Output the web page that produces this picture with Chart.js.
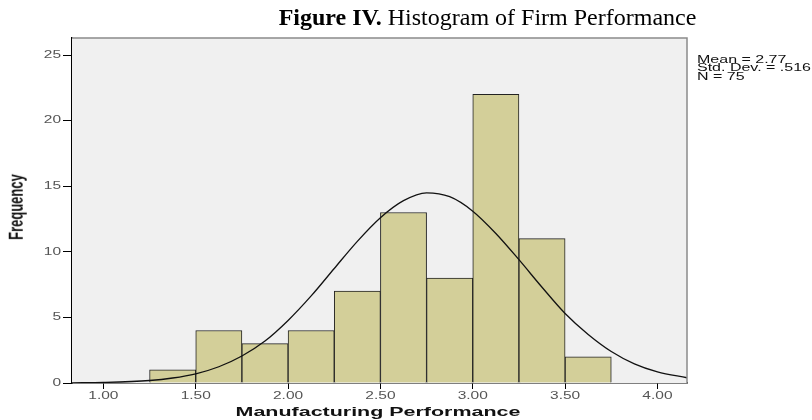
<!DOCTYPE html>
<html>
<head>
<meta charset="utf-8">
<script src="https://cdn.jsdelivr.net/npm/chart.js@4.4.1/dist/chart.umd.min.js"></script>
<style>
  html, body { margin: 0; padding: 0; background: #fff; }
  #wrap { position: relative; width: 812px; height: 420px; overflow: hidden; }
  #title { position: absolute; left: 0; width: 975px; top: 4px; text-align: center; white-space: nowrap;
           font-family: "Liberation Serif", "Times New Roman", serif; font-size: 24px; color: #000; }
  #stats { position: absolute; left: 697px; top: 56px; font-family: "Liberation Sans", Arial, sans-serif;
           font-size: 10px; line-height: 8.4px; color: #111; transform: scaleX(1.6); transform-origin: 0 0;
           white-space: nowrap; }
  #xtitle { position: absolute; left: 0; width: 756px; top: 404px; text-align: center; white-space: nowrap;
            font-family: "Liberation Sans", Arial, sans-serif; font-size: 13px; font-weight: bold; color: #111;
            transform: scaleX(1.65); transform-origin: 378px 0; }
  #ytitle { position: absolute; left: 16px; top: 207px; white-space: nowrap;
            font-family: "Liberation Sans", Arial, sans-serif; font-size: 13px; font-weight: bold; color: #111;
            transform: translate(-50%, -50%) rotate(-90deg) scaleY(1.5); }
</style>
</head>
<body>
<div id="wrap">
  <canvas id="c" width="812" height="420"></canvas>
  <div id="title"><b>Figure IV.</b> Histogram of Firm Performance</div>
  <div id="stats">Mean = 2.77<br>Std. Dev. = .516<br>N = 75</div>
  <div id="xtitle">Manufacturing Performance</div>
  <div id="ytitle">Frequency</div>
</div>
<script>
// histogram bins (centres) and counts
const binCentres = [1.375, 1.625, 1.875, 2.125, 2.375, 2.625, 2.875, 3.125, 3.375, 3.625];
const counts = [1, 4, 3, 4, 7, 13, 8, 22, 11, 2];

// normal curve, values
const curveX = [0.83, 1.0, 1.25, 1.375, 1.5, 1.625, 1.75, 1.875, 2.0, 2.125, 2.25, 2.375, 2.5, 2.625,
                2.75, 2.875, 3.0, 3.125, 3.25, 3.375, 3.5, 3.625, 3.75, 3.875, 4.0, 4.16];
const curveY = [0.01, 0.04, 0.19, 0.38, 0.70, 1.24, 2.06, 3.2, 4.77, 6.64, 8.73, 10.8, 12.6, 13.9,
                14.5, 14.2, 13.1, 11.4, 9.4, 7.3, 5.3, 3.7, 2.4, 1.46, 0.85, 0.4];

const xTicks = [1.0, 1.5, 2.0, 2.5, 3.0, 3.5, 4.0];
const yTicks = [0, 5, 10, 15, 20, 25];

// background, frame and the wide SPSS-style tick labels
const frame = {
  id: 'frame',
  beforeDatasetsDraw(chart) {
    const { ctx, chartArea: a } = chart;
    ctx.save();
    ctx.fillStyle = '#f0f0f0';
    ctx.fillRect(a.left, a.top, a.right - a.left, a.bottom - a.top);
    ctx.restore();
  },
  afterDraw(chart) {
    const { ctx, chartArea: a, scales } = chart;
    ctx.save();
    ctx.strokeStyle = '#8a8a8a';
    ctx.lineWidth = 1.5;
    ctx.beginPath();
    ctx.moveTo(a.left, a.top);
    ctx.lineTo(a.right, a.top);
    ctx.lineTo(a.right, a.bottom);
    ctx.stroke();

    ctx.fillStyle = '#555';
    ctx.font = '10px "Liberation Sans", Arial, sans-serif';
    ctx.textBaseline = 'middle';
    xTicks.forEach(v => {
      ctx.save();
      ctx.translate(scales.x.getPixelForValue(v), 396);
      ctx.scale(1.55, 1);
      ctx.textAlign = 'center';
      ctx.fillText(v.toFixed(2), 0, 0);
      ctx.restore();
    });
    yTicks.forEach(v => {
      ctx.save();
      ctx.translate(61, scales.y.getPixelForValue(v));
      ctx.scale(1.55, 1);
      ctx.textAlign = 'right';
      ctx.fillText(String(v), 0, 0);
      ctx.restore();
    });
    ctx.restore();
  }
};

new Chart(document.getElementById('c'), {
  data: {
    datasets: [
      {
        type: 'line',
        data: curveX.map((x, i) => ({ x: x, y: curveY[i] })),
        borderColor: '#111',
        borderWidth: 1.3,
        pointRadius: 0,
        cubicInterpolationMode: 'monotone',
        order: 1
      },
      {
        type: 'bar',
        data: binCentres.map((x, i) => ({ x: x, y: counts[i] })),
        backgroundColor: '#d3cf99',
        borderColor: '#222',
        borderWidth: 1,
        barPercentage: 1,
        categoryPercentage: 1,
        order: 2
      }
    ]
  },
  options: {
    responsive: false,
    animation: false,
    layout: { padding: { left: 0, top: 38, right: 125, bottom: 0 } },
    plugins: { legend: { display: false }, tooltip: { enabled: false } },
    scales: {
      x: {
        type: 'linear',
        offset: false,
        min: 0.83,
        max: 4.16,
        afterBuildTicks: s => { s.ticks = xTicks.map(v => ({ value: v })); },
        afterFit: s => { s.height = 37; },
        grid: { offset: false, drawOnChartArea: false, drawTicks: true, tickLength: 6, color: '#000' },
        border: { display: true, color: '#000', width: 1.5 },
        ticks: { display: false }
      },
      y: {
        min: 0,
        max: 26.3,
        afterBuildTicks: s => { s.ticks = yTicks.map(v => ({ value: v })); },
        afterFit: s => { s.width = 72; },
        grid: { drawOnChartArea: false, drawTicks: true, tickLength: 9, color: '#000' },
        border: { display: true, color: '#000', width: 1.5 },
        ticks: { display: false }
      }
    }
  },
  plugins: [frame]
});
</script>
</body>
</html>
